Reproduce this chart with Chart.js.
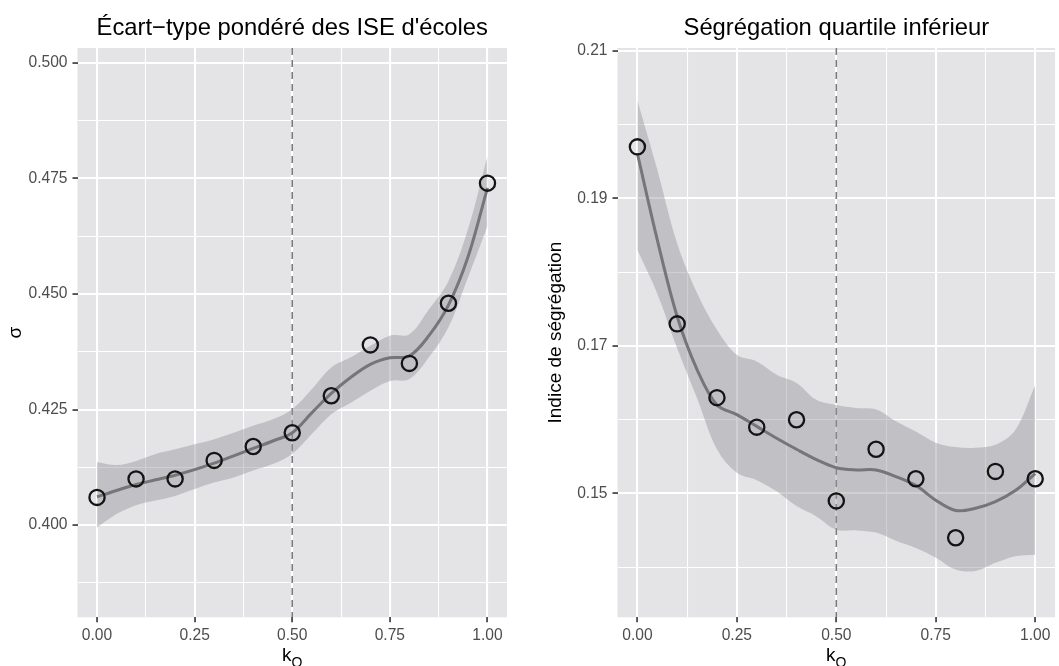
<!DOCTYPE html>
<html lang="fr">
<head>
<meta charset="utf-8">
<title>Écart-type et ségrégation selon kQ</title>
<script src="https://cdn.jsdelivr.net/npm/chart.js@4.4.1/dist/chart.umd.min.js"></script>
<style>
  html, body { margin: 0; padding: 0; background: #fff; overflow: hidden; }
  #wrap { position: relative; width: 1059px; height: 666px; overflow: hidden; }
  canvas { position: absolute; top: 0; }
  #chart-sigma { left: 0; }
  #chart-seg { left: 535px; }
</style>
</head>
<body>
<div id="wrap">
  <canvas id="chart-sigma" width="540" height="666"></canvas>
  <canvas id="chart-seg" width="530" height="666"></canvas>
</div>
<script>
'use strict';

// ── Data ──────────────────────────────────────────────────────
const kValues = [0, 0.1, 0.2, 0.3, 0.4, 0.5, 0.6, 0.7, 0.8, 0.9, 1.0];
const sigmaPoints = [0.406, 0.410, 0.410, 0.414, 0.417, 0.420, 0.428, 0.439, 0.435, 0.448, 0.474];
const segPoints   = [0.197, 0.173, 0.163, 0.159, 0.160, 0.149, 0.156, 0.152, 0.144, 0.153, 0.152];

// loess fit + confidence band, sampled every 0.05
const smoothX = [0, 0.05, 0.1, 0.15, 0.2, 0.25, 0.3, 0.35, 0.4, 0.45, 0.5,
                 0.55, 0.6, 0.65, 0.7, 0.75, 0.8, 0.85, 0.9, 0.95, 1.0];
const sigmaSmooth = [0.4061, 0.4075, 0.4088, 0.4098, 0.4108, 0.4120, 0.4134, 0.4150, 0.4166, 0.4182, 0.4200,
                     0.4243, 0.4285, 0.4320, 0.4348, 0.4362, 0.4366, 0.4410, 0.4476, 0.4580, 0.4730];
const sigmaUpper  = [0.4136, 0.4130, 0.4139, 0.4154, 0.4164, 0.4175, 0.4186, 0.4200, 0.4215, 0.4229, 0.4251,
                     0.4294, 0.4341, 0.4363, 0.4388, 0.4410, 0.4413, 0.4467, 0.4528, 0.4640, 0.4799];
const sigmaLower  = [0.3995, 0.4024, 0.4043, 0.4053, 0.4063, 0.4078, 0.4092, 0.4103, 0.4118, 0.4132, 0.4154,
                     0.4197, 0.4240, 0.4265, 0.4291, 0.4312, 0.4316, 0.4363, 0.4428, 0.4536, 0.4647];
const segSmooth   = [0.1961, 0.1844, 0.1740, 0.1668, 0.1620, 0.1607, 0.1591, 0.1575, 0.1560, 0.1546, 0.1535,
                     0.1532, 0.1532, 0.1523, 0.1511, 0.1491, 0.1477, 0.1480, 0.1489, 0.1504, 0.1527];
const segUpper    = [0.2033, 0.1939, 0.1839, 0.1772, 0.1722, 0.1688, 0.1679, 0.1661, 0.1650, 0.1627, 0.1620,
                     0.1616, 0.1614, 0.1598, 0.1584, 0.1569, 0.1563, 0.1562, 0.1566, 0.1586, 0.1647];
const segLower    = [0.1830, 0.1771, 0.1697, 0.1629, 0.1560, 0.1528, 0.1518, 0.1503, 0.1483, 0.1469, 0.1451,
                     0.1450, 0.1447, 0.1436, 0.1426, 0.1413, 0.1397, 0.1395, 0.1406, 0.1415, 0.1417];

const kCutoff = 0.5;

// ── Ticks ─────────────────────────────────────────────────────
const xMajor       = [0, 0.25, 0.5, 0.75, 1.0];
const xTickLabels  = ['0.00', '0.25', '0.50', '0.75', '1.00'];
const xMinor       = [0.125, 0.375, 0.625, 0.875];
const sigmaYMajor  = [0.400, 0.425, 0.450, 0.475, 0.500];
const sigmaYLabels = ['0.400', '0.425', '0.450', '0.475', '0.500'];
const sigmaYMinor  = [0.3875, 0.4125, 0.4375, 0.4625, 0.4875];
const segYMajor    = [0.15, 0.17, 0.19, 0.21];
const segYLabels   = ['0.15', '0.17', '0.19', '0.21'];
const segYMinor    = [0.14, 0.16, 0.18, 0.20];

// ── Look ──────────────────────────────────────────────────────
const FONT      = '"Liberation Sans", Arial, Helvetica, sans-serif';
const PANEL_BG  = '#E4E4E7';
const RIBBON    = 'rgba(150,150,156,0.45)';
const TICK_TXT  = '#4D4D4D';

const zip = (xs, ys) => xs.map((x, i) => ({ x, y: ys[i] }));
const near = (list, v) => list.some(m => Math.abs(m - v) < 1e-9);

// panel background behind the grid
const panelBackground = {
  id: 'panelBackground',
  beforeDraw(chart) {
    const { ctx, chartArea: a } = chart;
    ctx.save();
    ctx.fillStyle = PANEL_BG;
    ctx.fillRect(a.left, a.top, a.width, a.height);
    ctx.restore();
  }
};

// dashed vertical reference at k = 0.5
const cutoffLine = {
  id: 'cutoffLine',
  beforeDatasetsDraw(chart) {
    const { ctx, chartArea: a, scales } = chart;
    const x = scales.x.getPixelForValue(kCutoff);
    ctx.save();
    ctx.strokeStyle = '#7a7a7c';
    ctx.lineWidth = 1.6;
    ctx.setLineDash([7, 5]);
    ctx.beginPath();
    ctx.moveTo(x, a.top);
    ctx.lineTo(x, a.bottom);
    ctx.stroke();
    ctx.restore();
  }
};

// titles: panel title, y title (rotated), x title kQ
const panelText = {
  id: 'panelText',
  afterDraw(chart, args, opts) {
    const { ctx, chartArea: a } = chart;
    const cx = (a.left + a.right) / 2;
    ctx.save();
    ctx.fillStyle = '#000';
    ctx.textAlign = 'center';
    ctx.textBaseline = 'alphabetic';
    ctx.font = `23.8px ${FONT}`;
    ctx.fillText(opts.title, cx, 35);

    // x title: k with subscript Q
    ctx.font = `19px ${FONT}`;
    const kw = ctx.measureText('k').width;
    ctx.font = `14px ${FONT}`;
    const qw = ctx.measureText('Q').width;
    const x0 = cx - (kw + qw) / 2;
    ctx.textAlign = 'left';
    ctx.font = `19px ${FONT}`;
    ctx.fillText('k', x0, 661);
    ctx.font = `14px ${FONT}`;
    ctx.fillText('Q', x0 + kw, 667);

    // y title
    ctx.translate(opts.yTitleX, (a.top + a.bottom) / 2);
    ctx.rotate(-Math.PI / 2);
    ctx.textAlign = 'center';
    ctx.textBaseline = 'middle';
    ctx.font = `19px ${FONT}`;
    ctx.fillText(opts.yTitle, 0, 0);
    ctx.restore();
  }
};

// ── Panel builder ─────────────────────────────────────────────
function buildPanel(canvasId, p) {
  const yTicks = p.yMajor.concat(p.yMinor).sort((a, b) => a - b);
  const xTicks = xMajor.concat(xMinor).sort((a, b) => a - b);

  return new Chart(document.getElementById(canvasId), {
    type: 'line',
    data: {
      datasets: [
        {
          label: 'observé',
          data: zip(kValues, p.points),
          showLine: false,
          pointRadius: 7.6,
          pointHoverRadius: 7.6,
          pointBorderWidth: 2.3,
          pointBorderColor: '#141414',
          pointBackgroundColor: 'rgba(0,0,0,0)',
          order: 0,
        },
        {
          label: 'lissage',
          data: zip(smoothX, p.smooth),
          borderColor: '#767678',
          borderWidth: 3,
          pointRadius: 0,
          tension: 0.35,
          fill: false,
          order: 1,
        },
        {
          label: 'ic haut',
          data: zip(smoothX, p.upper),
          borderColor: 'rgba(0,0,0,0)',
          borderWidth: 0,
          pointRadius: 0,
          tension: 0.35,
          backgroundColor: RIBBON,
          fill: '+1',
          order: 2,
        },
        {
          label: 'ic bas',
          data: zip(smoothX, p.lower),
          borderColor: 'rgba(0,0,0,0)',
          borderWidth: 0,
          pointRadius: 0,
          tension: 0.35,
          fill: false,
          order: 3,
        },
      ],
    },
    options: {
      responsive: false,
      animation: false,
      events: [],
      layout: { padding: { top: 48, left: 0, right: p.padRight, bottom: 0 } },
      plugins: {
        legend: { display: false },
        tooltip: { enabled: false },
        panelText: { title: p.title, yTitle: p.yTitle, yTitleX: p.yTitleX },
      },
      scales: {
        x: {
          type: 'linear',
          min: -0.05,
          max: 1.05,
          afterBuildTicks: s => { s.ticks = xTicks.map(v => ({ value: v })); },
          afterFit: s => { s.height = 48.7; },
          border: { display: false },
          grid: {
            color: '#FFFFFF',
            lineWidth: c => near(xMajor, c.tick.value) ? 2.1 : 1.05,
            tickLength: 5,
            tickWidth: 1.6,
            tickColor: c => near(xMajor, c.tick.value) ? '#333333' : 'rgba(0,0,0,0)',
          },
          ticks: {
            autoSkip: false,
            maxRotation: 0,
            padding: 4,
            color: TICK_TXT,
            font: { family: FONT, size: 15.6 },
            callback: v => {
              const i = xMajor.findIndex(m => Math.abs(m - v) < 1e-9);
              return i < 0 ? '' : xTickLabels[i];
            },
          },
        },
        y: {
          type: 'linear',
          min: p.yMin,
          max: p.yMax,
          afterBuildTicks: s => { s.ticks = yTicks.map(v => ({ value: v })); },
          afterFit: s => { s.width = p.yWidth; },
          border: { display: false },
          grid: {
            color: '#FFFFFF',
            lineWidth: c => near(p.yMajor, c.tick.value) ? 2.1 : 1.05,
            tickLength: 5,
            tickWidth: 1.6,
            tickColor: c => near(p.yMajor, c.tick.value) ? '#333333' : 'rgba(0,0,0,0)',
          },
          ticks: {
            autoSkip: false,
            padding: 5,
            color: TICK_TXT,
            font: { family: FONT, size: 15.6 },
            callback: v => {
              const i = p.yMajor.findIndex(m => Math.abs(m - v) < 1e-9);
              return i < 0 ? '' : p.yLabels[i];
            },
          },
        },
      },
    },
    plugins: [panelBackground, cutoffLine, panelText],
  });
}

// ── Init ──────────────────────────────────────────────────────
buildPanel('chart-sigma', {
  title: 'Écart\u2212type pondéré des ISE d\'écoles',
  yTitle: 'σ',
  yTitleX: 16,
  points: sigmaPoints,
  smooth: sigmaSmooth,
  upper: sigmaUpper,
  lower: sigmaLower,
  yMin: 0.38005,
  yMax: 0.50325,
  yMajor: sigmaYMajor,
  yMinor: sigmaYMinor,
  yLabels: sigmaYLabels,
  yWidth: 77.5,
  padRight: 33,
});

buildPanel('chart-seg', {
  title: 'Ségrégation quartile inférieur',
  yTitle: 'Indice de ségrégation',
  yTitleX: 21,
  points: segPoints,
  smooth: segSmooth,
  upper: segUpper,
  lower: segLower,
  yMin: 0.13322,
  yMax: 0.2104,
  yMajor: segYMajor,
  yMinor: segYMinor,
  yLabels: segYLabels,
  yWidth: 82.5,
  padRight: 4,
});
</script>
</body>
</html>
